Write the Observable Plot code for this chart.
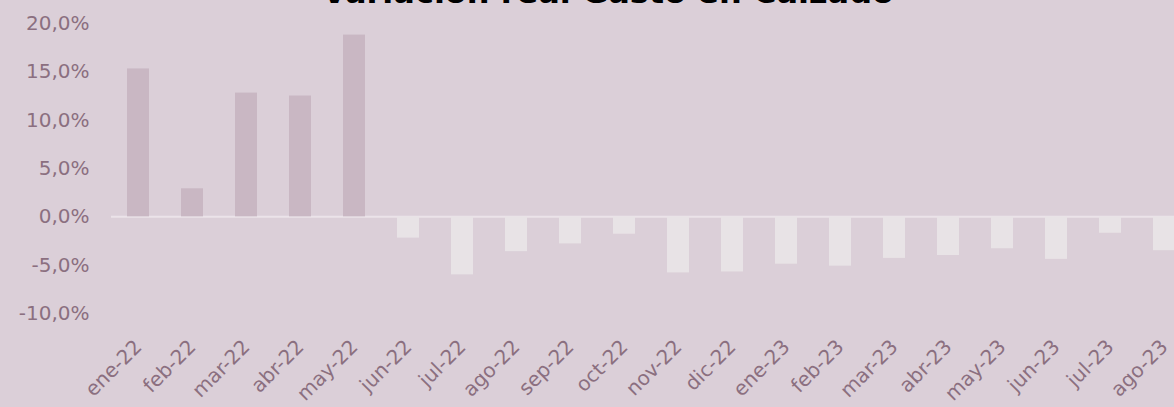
<!DOCTYPE html>
<html>
<head>
<meta charset="utf-8">
<script src="https://cdn.jsdelivr.net/npm/d3@7"></script>
<script src="https://cdn.jsdelivr.net/npm/@observablehq/plot@0.6"></script>
<style>
  html, body { margin: 0; padding: 0; background: #dbcfd8; overflow: hidden; }
  #wrap { position: relative; width: 1174px; height: 407px; overflow: hidden; background: #dbcfd8; }
  #title { position: absolute; left: 0; top: -24px; width: 1216px; text-align: center;
           font-family: "DejaVu Sans", sans-serif; font-weight: bold; font-size: 32px; line-height: 1; color: #000; }
  #chart { position: absolute; left: 0; top: 0; }
</style>
</head>
<body>
<div id="wrap">
  <div id="chart"></div>
  <div id="title">Variación real Gasto en Calzado</div>
</div>
<script>
const months = ["ene-22","feb-22","mar-22","abr-22","may-22","jun-22","jul-22","ago-22","sep-22","oct-22",
                "nov-22","dic-22","ene-23","feb-23","mar-23","abr-23","may-23","jun-23","jul-23","ago-23"];
const values = [15.3, 2.9, 12.8, 12.5, 18.8, -2.2, -6.0, -3.6, -2.8, -1.8,
                -5.8, -5.7, -4.9, -5.1, -4.3, -4.0, -3.3, -4.4, -1.7, -3.5];
const yTicks = [-10, -5, 0, 5, 10, 15, 20];

const data = months.map((m, i) => ({month: m, value: values[i]}));
const fmt = d => d.toFixed(1).replace(".", ",") + "%";

const chart = Plot.plot({
  width: 1174,
  height: 407,
  marginLeft: 111,
  marginRight: 0,
  marginTop: 23,
  marginBottom: 94,
  style: {background: "transparent", fontFamily: "'DejaVu Sans', sans-serif", fontSize: "20px", overflow: "visible"},
  x: {domain: months, range: [111, 1192], paddingInner: 0.59, paddingOuter: 0.295},
  y: {domain: [-10, 20]},
  marks: [
    Plot.ruleY([0], {stroke: "#ebe3e9", strokeWidth: 2}),
    Plot.barY(data, {x: "month", y: "value", fill: d => d.value >= 0 ? "#c9b7c3" : "#e8e3e6"}),
    Plot.axisY({ticks: yTicks, tickFormat: fmt, tickSize: 0, tickPadding: 22, fontSize: 20, fill: "#8b6f80", label: null}),
    Plot.axisX({tickRotate: -45, tickSize: 0, tickPadding: 30, fontSize: 20, fill: "#8b6f80", label: null})
  ]
});
document.getElementById("chart").appendChild(chart);
</script>
</body>
</html>
